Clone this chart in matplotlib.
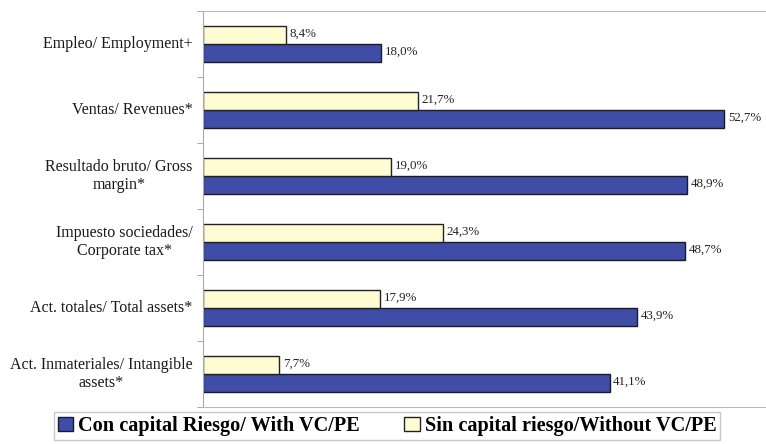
import matplotlib
matplotlib.use("Agg")
import matplotlib.pyplot as plt
import matplotlib.transforms as mtransforms
import numpy as np

categories = [
    "Empleo/ Employment+",
    "Ventas/ Revenues*",
    "Resultado bruto/ Gross\nmargin*",
    "Impuesto sociedades/\nCorporate tax*",
    "Act. totales/ Total assets*",
    "Act. Inmateriales/ Intangible\nassets*",
]
with_vc = [18.0, 52.7, 48.9, 48.7, 43.9, 41.1]
without_vc = [8.4, 21.7, 19.0, 24.3, 17.9, 7.7]
series_names = ["Con capital Riesgo/ With VC/PE", "Sin capital riesgo/Without VC/PE"]

blue = "#3F4DA6"
yellow = "#FFFBD2"

plt.rcParams['font.family'] = ['Liberation Serif', 'DejaVu Serif']

fig = plt.figure(figsize=(7.66, 4.44), dpi=100)
ax = fig.add_axes([203/766, 1-407/444, 1-203/766, (407-11)/444])

n = len(categories)
y = np.arange(n)
h = 0.28
b1 = ax.barh(y + h/2, with_vc, height=h, color=blue, edgecolor="#1a1a2e", linewidth=1.0,
             label=series_names[0])
b2 = ax.barh(y - h/2, without_vc, height=h, color=yellow, edgecolor="#222222", linewidth=1.0,
             label=series_names[1])

def fmt(v):
    return f"{v:.1f}".replace(".", ",") + "%"

for bars, vals in ((b1, with_vc), (b2, without_vc)):
    for r, v in zip(bars, vals):
        ax.annotate(fmt(v), (r.get_width(), r.get_y() + r.get_height()/2),
                    xytext=(2.5, 1), textcoords="offset points",
                    ha="left", va="center", fontsize=9.3, color="#222222")

ax.set_xlim(0, 56.9)
ax.set_ylim(n - 0.5, -0.5)
ax.set_yticks([])
ax.set_yticks(np.arange(n + 1) - 0.5, minor=True)
ax.tick_params(axis="y", which="minor", length=4, color="#999999")
ax.set_xticks([])

trans = mtransforms.blended_transform_factory(ax.transAxes, ax.transData)
for yi, cat in zip(y, categories):
    ax.annotate(cat, (0, yi), xycoords=trans, xytext=(-7.5, 0), textcoords="offset points",
                ha="right", va="center", multialignment="center", fontsize=11.5,
                color="#1a1a1a", annotation_clip=False)

for s in ("top", "bottom"):
    ax.spines[s].set_color("#bbbbbb")
ax.spines["left"].set_color("#aaaaaa")
ax.spines["right"].set_visible(False)

leg = fig.legend(handles=[b1, b2], labels=series_names, loc="lower center",
                 bbox_to_anchor=(387/766, -0.014), ncol=2, frameon=True,
                 prop={"weight": "bold", "size": 14.6}, handlelength=0.75, handleheight=0.75,
                 handletextpad=0.25, columnspacing=2.2, borderpad=0.2, fancybox=False,
                 edgecolor="#bbbbbb")

fig.savefig("out.png", dpi=100)
